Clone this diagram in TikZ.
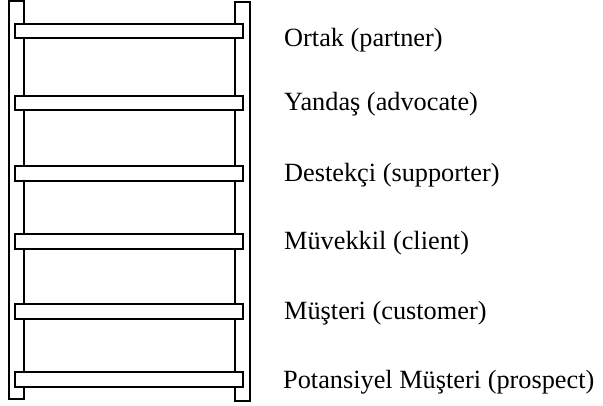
\documentclass[tikz,border=0pt]{standalone}
\usepackage{fontspec}
\setmainfont{Liberation Serif}
\tikzset{
  rail/.style={draw=black, line width=1.3pt, fill=white},
  rung/.style={draw=black, line width=1.7pt, fill=white},
  lbl/.style={anchor=base west, inner sep=0pt, font=\fontsize{26.3}{31}\selectfont}
}
\begin{document}
\begin{tikzpicture}[x=1pt,y=-1pt]
\useasboundingbox (0,0) rectangle (603,405);
% rails
\draw[rail] (9,1) rectangle (24,399);
\draw[rail] (235,2) rectangle (250,401);
% rungs
\foreach \c in {31,103,173.5,241.5,311.5,379.5}{
  \draw[rung] (15,\c-7.3) rectangle (243,\c+7.3);
}
\coordinate (r1) at (284,46);
\coordinate (r2) at (284,110);
\coordinate (r3) at (284,181);
\coordinate (r4) at (284,249);
\coordinate (r5) at (284,319);
\coordinate (r6) at (283,388);
\node[lbl] (l1) at (r1) {Ortak (partner)};
\node[lbl] (l2) at (r2) {Yandaş (advocate)};
\node[lbl] (l3) at (r3) {Destekçi (supporter)};
\node[lbl] (l4) at (r4) {Müvekkil (client)};
\node[lbl] (l5) at (r5) {Müşteri (customer)};
\node[lbl] (l6) at (r6) {Potansiyel Müşteri (prospect)};
\end{tikzpicture}
\end{document}
